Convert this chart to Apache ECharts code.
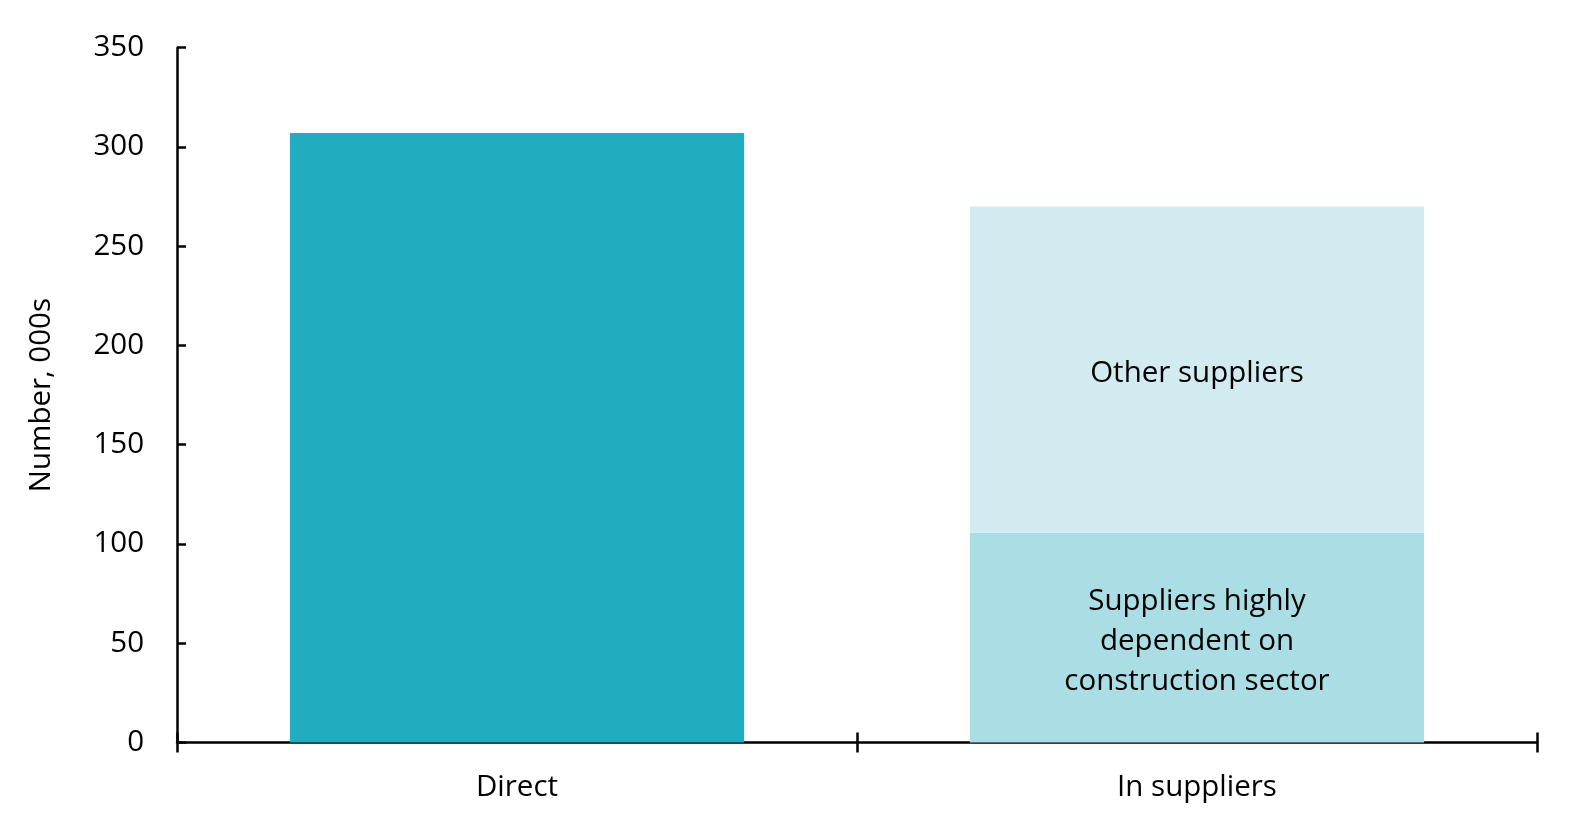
<!DOCTYPE html>
<html>
<head>
<meta charset="utf-8">
<script src="https://cdn.jsdelivr.net/npm/echarts@6/dist/echarts.min.js"></script>
<style>html,body{margin:0;padding:0;background:#fff;}#c{width:1572px;height:830px;}</style>
</head>
<body>
<div id="c"></div>
<script>
var categories = ['Direct', 'In suppliers'];
var directValues = [307, null];
var dependentValues = [null, 105.6];
var otherValues = [null, 164.4];
var yTicks = [0, 50, 100, 150, 200, 250, 300, 350];
var seriesNames = ['Direct', 'Suppliers highly\ndependent on\nconstruction sector', 'Other suppliers'];

var FONT = 'Open Sans';
var FS = 29.5;
var chart = echarts.init(document.getElementById('c'), null, {renderer: 'canvas'});
var axisLine = {show: true, lineStyle: {color: '#000', width: 2.5}};
chart.setOption({
  animation: false,
  grid: {left: 177, right: 35, top: 47.7, bottom: 87.5, containLabel: false},
  textStyle: {fontFamily: FONT},
  xAxis: [{
    type: 'category',
    data: categories,
    position: 'bottom',
    axisLine: axisLine,
    axisTick: {show: true, inside: false, length: 10, lineStyle: {color: '#000', width: 2.5}},
    axisLabel: {color: '#000', fontSize: FS, fontFamily: FONT, margin: 30}
  }, {
    type: 'category',
    data: categories,
    position: 'bottom',
    axisLine: {show: false},
    axisTick: {show: true, inside: true, length: 10, lineStyle: {color: '#000', width: 2.5}},
    axisLabel: {show: false}
  }],
  yAxis: {
    type: 'value',
    min: yTicks[0],
    max: yTicks[yTicks.length - 1],
    interval: 50,
    axisLine: axisLine,
    axisTick: {show: true, inside: true, length: 9, lineStyle: {color: '#000', width: 2.5}},
    splitLine: {show: false},
    axisLabel: {color: '#000', fontSize: FS, fontFamily: FONT, margin: 33},
    name: 'Number, 000s',
    nameLocation: 'middle',
    nameGap: 120,
    nameRotate: 90,
    nameTextStyle: {color: '#000', fontSize: FS, fontFamily: FONT}
  },
  series: [{
    name: seriesNames[0],
    type: 'bar',
    stack: 's',
    data: directValues,
    barWidth: '66.8%',
    itemStyle: {color: '#1fadbf'}
  }, {
    name: seriesNames[1],
    type: 'bar',
    stack: 's',
    data: dependentValues,
    barWidth: '66.8%',
    itemStyle: {color: '#abdde5'},
    label: {show: true, position: 'inside', offset: [0, 4], formatter: seriesNames[1], color: '#000', fontSize: FS, fontFamily: FONT, lineHeight: 40}
  }, {
    name: seriesNames[2],
    type: 'bar',
    stack: 's',
    data: otherValues,
    barWidth: '66.8%',
    itemStyle: {color: '#d2ebf0'},
    label: {show: true, position: 'inside', offset: [0, 4], formatter: seriesNames[2], color: '#000', fontSize: FS, fontFamily: FONT}
  }]
});
</script>
</body>
</html>
